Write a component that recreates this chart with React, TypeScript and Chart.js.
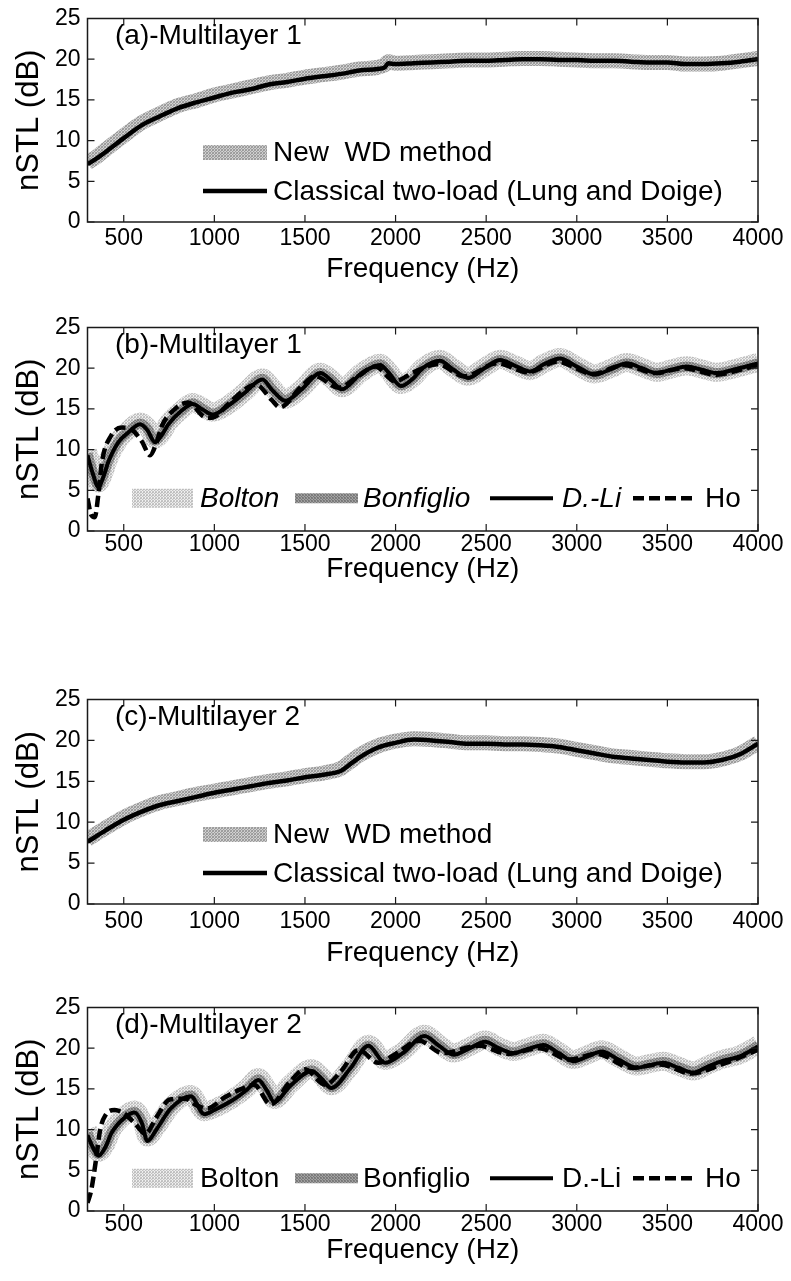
import React, { useEffect, useRef } from "react";
import { Chart, registerables } from "chart.js";

Chart.register(...registerables);

const FONT = '"Liberation Sans", Arial, Helvetica, sans-serif';

// ---------- axes ----------
const X_MIN = 300;
const X_MAX = 4000;
const Y_MIN = 0;
const Y_MAX = 25;
const X_TICKS = [500, 1000, 1500, 2000, 2500, 3000, 3500, 4000];
const Y_TICKS = [0, 5, 10, 15, 20, 25];
const X_TITLE = "Frequency (Hz)";
const Y_TITLE = "nSTL (dB)";

// ---------- labels ----------
const LBL_NEW_WD = "New  WD method";
const LBL_CLASSICAL = "Classical two-load (Lung and Doige)";
const LBL_BOLTON = "Bolton";
const LBL_BONFIGLIO = "Bonfiglio";
const LBL_DLI = "D.-Li";
const LBL_HO = "Ho";

// ---------- panel (a) Multilayer 1 ----------
const freqA = [300, 350, 400, 500, 600, 700, 800, 900, 1000, 1100, 1200, 1300, 1400, 1500, 1600, 1700, 1800, 1900, 1940, 1960, 2000, 2100, 2200, 2300, 2400, 2500, 2600, 2700, 2800, 2900, 3000, 3100, 3200, 3300, 3400, 3500, 3600, 3700, 3800, 3900, 4000];
const newWdA = [7.3, 8.0, 8.9, 10.6, 12.2, 13.3, 14.3, 14.9, 15.6, 16.1, 16.6, 17.1, 17.4, 17.8, 18.1, 18.4, 18.8, 19.0, 19.3, 19.7, 19.5, 19.6, 19.7, 19.8, 19.9, 19.9, 20.0, 20.1, 20.1, 20.0, 19.9, 19.8, 19.8, 19.7, 19.6, 19.6, 19.4, 19.4, 19.5, 19.8, 20.1];
const classicalA = [7.1, 7.8, 8.6, 10.3, 11.9, 13.0, 14.0, 14.7, 15.3, 15.9, 16.3, 16.9, 17.2, 17.6, 17.9, 18.2, 18.6, 18.8, 19.0, 19.5, 19.4, 19.5, 19.6, 19.7, 19.8, 19.8, 19.9, 20.0, 20.0, 19.9, 19.9, 19.8, 19.8, 19.7, 19.6, 19.6, 19.4, 19.4, 19.5, 19.7, 20.0];

// ---------- panel (b) Multilayer 1 ----------
const freqB = [300, 330, 360, 390, 415, 470, 525, 590, 630, 672, 710, 746, 820, 880, 930, 990, 1077, 1169, 1265, 1320, 1390, 1482, 1585, 1650, 1703, 1813, 1915, 1960, 2030, 2100, 2150, 2245, 2320, 2400, 2490, 2577, 2660, 2742, 2820, 2907, 3000, 3100, 3190, 3276, 3360, 3441, 3520, 3607, 3690, 3773, 3880, 4000];
const boltonB = [9.8, 7.6, 5.9, 7.2, 8.8, 11.1, 12.4, 13.4, 12.8, 11.3, 12.0, 13.3, 14.9, 15.8, 15.3, 14.6, 15.5, 17.1, 18.8, 17.6, 16.2, 17.5, 19.5, 18.6, 17.6, 19.5, 20.6, 19.7, 18.0, 18.9, 20.1, 21.1, 20.0, 19.0, 20.1, 21.1, 20.4, 19.7, 20.6, 21.3, 20.3, 19.3, 20.0, 20.7, 20.1, 19.5, 19.9, 20.3, 19.9, 19.5, 20.0, 20.7];
const bonfiglioB = [9.5, 7.2, 5.6, 7.0, 8.6, 11.0, 12.2, 13.2, 12.6, 11.1, 11.9, 13.2, 14.8, 15.7, 15.1, 14.4, 15.4, 17.0, 18.7, 17.4, 16.1, 17.4, 19.4, 18.5, 17.5, 19.4, 20.5, 19.6, 17.9, 18.8, 20.0, 21.0, 19.9, 18.9, 20.0, 21.0, 20.3, 19.6, 20.5, 21.2, 20.2, 19.2, 19.9, 20.6, 20.0, 19.4, 19.8, 20.2, 19.8, 19.4, 19.9, 20.6];
const dliB = [9.3, 7.0, 5.4, 6.8, 8.5, 10.9, 12.1, 13.1, 12.4, 10.9, 11.8, 13.1, 14.8, 15.6, 15.0, 14.3, 15.4, 17.0, 18.6, 17.3, 16.0, 17.4, 19.4, 18.4, 17.4, 19.4, 20.4, 19.5, 17.8, 18.8, 20.0, 20.9, 19.8, 18.8, 20.0, 21.0, 20.3, 19.6, 20.5, 21.2, 20.2, 19.2, 19.9, 20.6, 20.0, 19.4, 19.8, 20.2, 19.8, 19.4, 19.9, 20.6];
const freqHoB = [300, 320, 340, 360, 380, 430, 490, 540, 600, 645, 680, 710, 783, 856, 939, 985, 1077, 1169, 1230, 1316, 1362, 1482, 1556, 1684, 1793, 1887, 1997, 2100, 2230, 2380, 2560, 2730, 2890, 3090, 3260, 3430, 3590, 3770, 3900, 4000];
const hoB = [4.0, 2.0, 1.7, 4.5, 8.5, 11.7, 12.7, 12.5, 11.0, 9.3, 10.8, 12.9, 15.0, 15.8, 14.1, 13.9, 15.6, 17.4, 18.0, 16.1, 15.2, 17.8, 19.0, 17.6, 19.0, 20.2, 18.4, 19.5, 20.5, 19.0, 20.6, 19.5, 20.8, 19.3, 20.4, 19.4, 20.0, 19.2, 19.8, 20.4];

// ---------- panel (c) Multilayer 2 ----------
const freqC = [300, 400, 500, 600, 700, 800, 900, 1000, 1100, 1200, 1300, 1400, 1500, 1600, 1700, 1750, 1800, 1900, 2000, 2100, 2200, 2300, 2400, 2500, 2600, 2700, 2800, 2900, 3000, 3100, 3200, 3300, 3400, 3500, 3600, 3700, 3800, 3900, 4000];
const newWdC = [7.9, 9.3, 10.6, 11.6, 12.4, 12.9, 13.4, 13.8, 14.2, 14.6, 15.0, 15.3, 15.7, 16.0, 16.6, 17.4, 18.2, 19.3, 19.9, 20.2, 20.1, 19.9, 19.7, 19.7, 19.6, 19.6, 19.5, 19.3, 18.9, 18.5, 18.1, 17.9, 17.7, 17.5, 17.4, 17.4, 17.7, 18.4, 19.7];
const classicalC = [7.6, 9.0, 10.3, 11.3, 12.1, 12.6, 13.1, 13.6, 14.0, 14.4, 14.8, 15.1, 15.5, 15.8, 16.3, 17.1, 17.9, 19.1, 19.7, 20.1, 20.0, 19.8, 19.6, 19.6, 19.5, 19.5, 19.4, 19.2, 18.8, 18.4, 18.0, 17.8, 17.6, 17.4, 17.3, 17.3, 17.6, 18.3, 19.6];

// ---------- panel (d) Multilayer 2 ----------
const freqD = [300, 330, 360, 400, 433, 507, 560, 600, 630, 680, 760, 870, 944, 1000, 1100, 1180, 1243, 1290, 1330, 1420, 1538, 1590, 1645, 1750, 1850, 1942, 2040, 2160, 2240, 2320, 2410, 2494, 2570, 2650, 2730, 2816, 2900, 2981, 3060, 3138, 3230, 3331, 3400, 3478, 3560, 3643, 3720, 3800, 3900, 4000];
const boltonD = [10.0, 8.4, 7.2, 8.2, 9.9, 11.8, 12.4, 11.2, 9.1, 10.3, 12.8, 14.3, 12.2, 12.6, 13.8, 15.1, 16.4, 15.1, 13.7, 15.6, 17.5, 16.6, 15.4, 17.7, 20.5, 18.5, 19.6, 21.7, 20.5, 19.4, 20.2, 21.0, 20.2, 19.6, 20.1, 20.6, 19.6, 18.6, 19.2, 19.8, 18.8, 17.8, 18.1, 18.4, 17.8, 17.2, 17.9, 18.6, 19.2, 20.4];
const bonfiglioD = [9.6, 8.0, 7.0, 8.0, 9.7, 11.6, 12.2, 11.0, 8.9, 10.1, 12.7, 14.2, 12.0, 12.5, 13.7, 15.0, 16.2, 14.9, 13.5, 15.5, 17.3, 16.4, 15.2, 17.6, 20.3, 18.3, 19.5, 21.6, 20.4, 19.3, 20.1, 20.9, 20.1, 19.5, 20.0, 20.5, 19.5, 18.5, 19.1, 19.7, 18.7, 17.7, 18.0, 18.3, 17.7, 17.1, 17.8, 18.5, 19.1, 20.3];
const dliD = [9.3, 7.8, 6.8, 7.9, 9.6, 11.5, 12.1, 10.8, 8.6, 10.0, 12.6, 14.1, 11.9, 12.4, 13.6, 14.9, 16.1, 14.8, 13.4, 15.4, 17.2, 16.3, 15.1, 17.5, 20.3, 18.2, 19.4, 21.5, 20.3, 19.2, 20.0, 20.8, 20.0, 19.4, 19.9, 20.4, 19.4, 18.4, 19.0, 19.6, 18.6, 17.6, 17.9, 18.2, 17.6, 17.0, 17.7, 18.4, 19.0, 20.2];
const freqHoD = [300, 320, 345, 370, 400, 450, 500, 560, 620, 680, 755, 838, 900, 960, 1060, 1150, 1219, 1311, 1418, 1500, 1611, 1700, 1795, 1905, 2000, 2130, 2260, 2460, 2620, 2790, 2960, 3110, 3300, 3460, 3630, 3800, 4000];
const hoD = [1.0, 2.5, 6.0, 10.0, 11.8, 12.4, 12.0, 10.8, 9.5, 11.5, 13.7, 13.8, 13.0, 12.6, 14.0, 15.0, 15.5, 13.1, 15.9, 17.4, 15.5, 17.2, 19.8, 18.2, 19.3, 20.9, 19.4, 20.3, 19.3, 20.0, 18.6, 19.3, 17.6, 18.0, 16.9, 18.0, 19.8];

// ---------- helpers ----------
function pts(xs: number[], ys: number[]) {
  return xs.map((x, i) => ({ x, y: ys[i] }));
}

function makePattern(rows: string[][]): CanvasPattern | string {
  const c = document.createElement("canvas");
  c.width = rows[0].length;
  c.height = rows.length;
  const g = c.getContext("2d");
  if (!g) return rows[0][0];
  rows.forEach((row, j) =>
    row.forEach((col, i) => {
      g.fillStyle = col;
      g.fillRect(i, j, 1, 1);
    })
  );
  return g.createPattern(c, "repeat") || rows[0][0];
}

type Patterns = { newWd: any; bolton: any; bonfiglio: any };

function lineDs(label: string, data: any[], color: any, width: number, order: number, dash?: number[]) {
  return {
    label,
    data,
    borderColor: color,
    backgroundColor: color,
    borderWidth: width,
    borderDash: dash || [],
    borderJoinStyle: "round",
    borderCapStyle: "butt",
    cubicInterpolationMode: "monotone",
    pointRadius: 0,
    fill: false,
    clip: 0,
    order,
  };
}

function twoLoadSets(p: Patterns, fx: number[], wd: number[], cl: number[]) {
  return [
    lineDs(LBL_NEW_WD, pts(fx, wd), p.newWd, 15, 2),
    lineDs(LBL_CLASSICAL, pts(fx, cl), "#000000", 4.5, 1),
  ];
}

function fourSets(p: Patterns, fx: number[], bo: number[], bf: number[], dl: number[], fh: number[], ho: number[]) {
  return [
    lineDs(LBL_BOLTON, pts(fx, bo), p.bolton, 19, 4),
    lineDs(LBL_BONFIGLIO, pts(fx, bf), p.bonfiglio, 10, 3),
    lineDs(LBL_DLI, pts(fx, dl), "#000000", 4, 2),
    lineDs(LBL_HO, pts(fh, ho), "#000000", 4.5, 1, [11, 5]),
  ];
}

type LegendItem = { ds: number; x0: number; x1: number; tx: number; dy: number; italic?: boolean };

type PanelCfg = {
  key: string;
  top: number;
  plotH: number;
  xAxisH: number;
  tickPad: number;
  title: string;
  build: (p: Patterns) => any[];
  legend: LegendItem[];
};

const TWO_LEGEND: LegendItem[] = [
  { ds: 0, x0: 115.5, x1: 179.5, tx: 185.5, dy: 69.5 },
  { ds: 1, x0: 115.5, x1: 179.5, tx: 185.5, dy: 31 },
];

const FOUR_LEGEND = (italic: boolean): LegendItem[] => [
  { ds: 0, x0: 44.5, x1: 105.5, tx: 112.5, dy: 32.7, italic },
  { ds: 1, x0: 207.5, x1: 270.5, tx: 275.5, dy: 32.7, italic },
  { ds: 2, x0: 402.5, x1: 465.5, tx: 474.5, dy: 32.7, italic },
  { ds: 3, x0: 545.5, x1: 605.5, tx: 617.5, dy: 32.7 },
];

const PAD_TOP = 17;
const Y_AXIS_W = 87.5;
const PAD_RIGHT = 33;
const W = 791;

const PANELS: PanelCfg[] = [
  { key: "a", top: 0, plotH: 205, xAxisH: 64, tickPad: 5.5, title: "(a)-Multilayer 1", build: (p) => twoLoadSets(p, freqA, newWdA, classicalA), legend: TWO_LEGEND },
  { key: "b", top: 309, plotH: 205, xAxisH: 55, tickPad: 2, title: "(b)-Multilayer 1", build: (p) => fourSets(p, freqB, boltonB, bonfiglioB, dliB, freqHoB, hoB), legend: FOUR_LEGEND(true) },
  { key: "c", top: 681, plotH: 206, xAxisH: 66, tickPad: 6.5, title: "(c)-Multilayer 2", build: (p) => twoLoadSets(p, freqC, newWdC, classicalC), legend: TWO_LEGEND },
  { key: "d", top: 989, plotH: 205, xAxisH: 56, tickPad: 2, title: "(d)-Multilayer 2", build: (p) => fourSets(p, freqD, boltonD, bonfiglioD, dliD, freqHoD, hoD), legend: FOUR_LEGEND(false) },
];

function Panel({ cfg }: { cfg: PanelCfg }) {
  const ref = useRef<HTMLCanvasElement | null>(null);
  const h = PAD_TOP + cfg.plotH + cfg.xAxisH;

  useEffect(() => {
    const canvas = ref.current;
    if (!canvas) return;
    const patterns: Patterns = {
      newWd: makePattern([
        ["#a2a2a2", "#d0d0d0", "#989898"],
        ["#d6d6d6", "#9c9c9c", "#c6c6c6"],
        ["#9a9a9a", "#cccccc", "#a4a4a4"],
      ]),
      bolton: makePattern([
        ["#c4c4c4", "#e9e9e9", "#bababa"],
        ["#efefef", "#c0c0c0", "#dedede"],
        ["#c2c2c2", "#f3f3f3", "#c8c8c8"],
      ]),
      bonfiglio: makePattern([
        ["#7a7a7a", "#a2a2a2", "#7e7e7e"],
        ["#a6a6a6", "#767676", "#9a9a9a"],
        ["#828282", "#9e9e9e", "#747474"],
      ]),
    };

    const decor = {
      id: "panelDecor",
      afterDatasetsDraw(chart: any) {
        const { ctx, chartArea, scales } = chart;
        const { left, right, top, bottom } = chartArea;
        const xs = scales.x;
        const ys = scales.y;
        ctx.save();
        // frame
        ctx.strokeStyle = "#1a1a1a";
        ctx.lineWidth = 1.5;
        ctx.setLineDash([]);
        ctx.strokeRect(left, top, right - left, bottom - top);
        // inward ticks
        ctx.lineWidth = 1.2;
        ctx.beginPath();
        X_TICKS.forEach((v) => {
          const px = xs.getPixelForValue(v);
          ctx.moveTo(px, bottom);
          ctx.lineTo(px, bottom - 7);
          ctx.moveTo(px, top);
          ctx.lineTo(px, top + 7);
        });
        Y_TICKS.forEach((v) => {
          const py = ys.getPixelForValue(v);
          ctx.moveTo(left, py);
          ctx.lineTo(left + 7, py);
          ctx.moveTo(right, py);
          ctx.lineTo(right - 7, py);
        });
        ctx.stroke();
        // panel title
        ctx.fillStyle = "#000";
        ctx.textBaseline = "middle";
        ctx.textAlign = "left";
        ctx.font = `28px ${FONT}`;
        ctx.fillText(cfg.title, left + 27.5, top + 18);
        // legend
        cfg.legend.forEach((it) => {
          const ds = chart.data.datasets[it.ds];
          const yy = bottom - it.dy;
          ctx.save();
          ctx.strokeStyle = ds.borderColor;
          ctx.lineWidth = ds.borderWidth;
          ctx.lineCap = "butt";
          ctx.setLineDash(ds.borderDash || []);
          ctx.beginPath();
          ctx.moveTo(left + it.x0, yy);
          ctx.lineTo(left + it.x1, yy);
          ctx.stroke();
          ctx.restore();
          ctx.fillStyle = "#000";
          ctx.font = `${it.italic ? "italic " : ""}28px ${FONT}`;
          ctx.fillText(ds.label, left + it.tx, yy + 1);
        });
        ctx.restore();
      },
    };

    const tickFont = { family: FONT, size: 23, lineHeight: 1 };
    const plainLabel = (v: any) => String(v);

    const chart = new Chart(canvas, {
      type: "line",
      data: { datasets: cfg.build(patterns) as any },
      options: {
        responsive: false,
        animation: false,
        devicePixelRatio: 1,
        layout: { padding: { top: PAD_TOP, left: 0, right: PAD_RIGHT, bottom: 0 } },
        plugins: {
          legend: { display: false },
          tooltip: { enabled: false },
        },
        scales: {
          x: {
            type: "linear",
            min: X_MIN,
            max: X_MAX,
            grid: { display: false, drawTicks: false },
            border: { display: false },
            afterBuildTicks: (s: any) => {
              s.ticks = X_TICKS.map((v) => ({ value: v }));
            },
            afterFit: (s: any) => {
              s.height = cfg.xAxisH;
            },
            ticks: {
              autoSkip: false,
              maxRotation: 0,
              padding: cfg.tickPad,
              color: "#000",
              font: tickFont,
              callback: plainLabel,
            },
            title: {
              display: true,
              text: X_TITLE,
              color: "#000",
              font: { family: FONT, size: 28, lineHeight: 1.2 },
              padding: { top: 0, bottom: 0 },
            },
          },
          y: {
            type: "linear",
            min: Y_MIN,
            max: Y_MAX,
            grid: { display: false, drawTicks: false },
            border: { display: false },
            afterBuildTicks: (s: any) => {
              s.ticks = Y_TICKS.map((v) => ({ value: v }));
            },
            afterFit: (s: any) => {
              s.width = Y_AXIS_W;
            },
            ticks: {
              padding: 7,
              color: "#000",
              font: tickFont,
              callback: plainLabel,
            },
            title: {
              display: true,
              text: Y_TITLE,
              color: "#000",
              font: { family: FONT, size: 31, lineHeight: 1.2 },
              padding: { top: 11, bottom: 0 },
            },
          },
        },
      } as any,
      plugins: [decor],
    });
    return () => chart.destroy();
  }, []);

  return (
    <div style={{ position: "absolute", left: 0, top: cfg.top, width: W, height: h }}>
      <canvas ref={ref} width={W} height={h} style={{ display: "block", width: W, height: h }} />
    </div>
  );
}

export default function App() {
  return (
    <div style={{ position: "absolute", left: 0, top: 0, width: W, height: 1281, background: "#fff" }}>
      {PANELS.map((p) => (
        <Panel key={p.key} cfg={p} />
      ))}
    </div>
  );
}
